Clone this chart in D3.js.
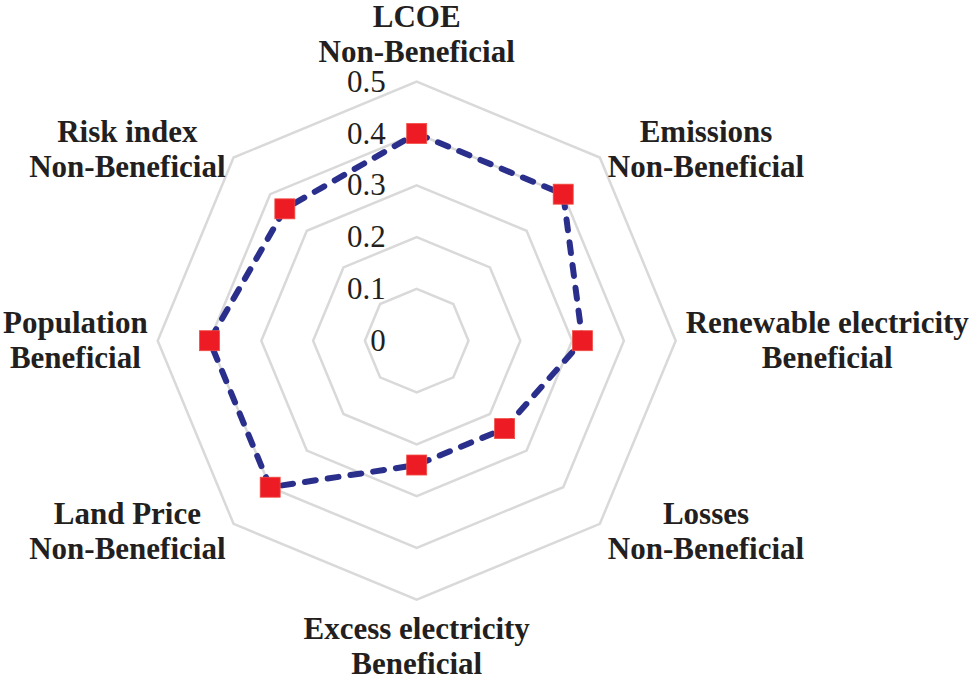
<!DOCTYPE html>
<html>
<head>
<meta charset="utf-8">
<script src="https://cdn.jsdelivr.net/npm/d3@7"></script>
<style>
html,body{margin:0;padding:0;background:#fff;}
svg{display:block;}
svg text{font-family:"Liberation Serif","Times New Roman",Times,"DejaVu Serif",serif;}
</style>
</head>
<body>
<svg id="chart" width="975" height="682"></svg>
<script>
const axisNames = ["LCOE", "Emissions", "Renewable electricity", "Losses", "Excess electricity", "Land Price", "Population", "Risk index"];
const axisTypes = ["Non-Beneficial", "Non-Beneficial", "Beneficial", "Non-Beneficial", "Beneficial", "Non-Beneficial", "Beneficial", "Non-Beneficial"];
const values = [0.40, 0.40, 0.32, 0.24, 0.24, 0.40, 0.40, 0.36];
const tickValues = [0, 0.1, 0.2, 0.3, 0.4, 0.5];
const tickLabels = ["0", "0.1", "0.2", "0.3", "0.4", "0.5"];

const cx = 416.7, cy = 340.7;
const svg = d3.select("#chart");
const r = d3.scaleLinear().domain([0, 0.5]).range([0, 259]);
const n = axisNames.length;
const angle = d3.scaleLinear().domain([0, n]).range([0, 2 * Math.PI]);
const pt = (i, v) => [cx + r(v) * Math.sin(angle(i)), cy - r(v) * Math.cos(angle(i))];

const g = svg.append("g");

// grid rings
tickValues.filter(t => t > 0).forEach(t => {
  const pts = d3.range(n).map(i => pt(i, t));
  g.append("path")
    .attr("d", d3.line()(pts) + "Z")
    .attr("fill", "none")
    .attr("stroke", "#d9d9d9")
    .attr("stroke-width", 2.5);
});

// tick labels
g.selectAll("text.tick").data(tickValues).join("text")
  .attr("class", "tick")
  .attr("x", cx - 31)
  .attr("y", d => cy - r(d) + 10)
  .attr("text-anchor", "end")
  .attr("font-size", 31)
  .attr("fill", "#231f20")
  .text((d, i) => tickLabels[i]);

// data line
const dataPts = values.map((v, i) => pt(i, v));
g.append("path")
  .attr("d", d3.line()(dataPts) + "Z")
  .attr("fill", "none")
  .attr("stroke", "#2b2f8c")
  .attr("stroke-width", 6)
  .attr("stroke-dasharray", "11,12")
  .attr("stroke-linecap", "round");

// markers
const ms = 20;
g.selectAll("rect.mk").data(values).join("rect")
  .attr("class", "mk")
  .attr("x", (d, i) => pt(i, d)[0] - ms / 2)
  .attr("y", (d, i) => pt(i, d)[1] - ms / 2)
  .attr("width", ms)
  .attr("height", ms)
  .attr("fill", "#ed1c24")
  .attr("stroke", "#f04e45")
  .attr("stroke-width", 0.8);

// axis labels
const lineGap = 35;
axisNames.forEach((name, i) => {
  const [vx, vy] = pt(i, 0.5);
  const s = Math.sin(angle(i)), c = Math.cos(angle(i));
  const sx = Math.abs(s) < 1e-6 ? 0 : Math.sign(s);
  const sy = Math.abs(c) < 1e-6 ? 0 : -Math.sign(c);
  const lab = g.append("g");
  const t1 = lab.append("text").text(name);
  const t2 = lab.append("text").text(axisTypes[i]);
  [t1, t2].forEach(t => t.attr("font-size", 31)
    .attr("font-weight", "bold").attr("fill", "#231f20").attr("text-anchor", "middle"));
  const w = Math.max(t1.node().getComputedTextLength(), t2.node().getComputedTextLength());
  let bx, by;
  if (sx === 0) {
    bx = vx;
    by = vy + sy * 47;
  } else if (sy === 0) {
    bx = vx + sx * (10 + w / 2);
    by = vy;
  } else {
    bx = vx + sx * (8 + w / 2);
    by = vy + sy * 8;
  }
  t1.attr("x", bx).attr("y", by - lineGap / 2 + 10);
  t2.attr("x", bx).attr("y", by + lineGap / 2 + 10);
});
</script>
</body>
</html>
